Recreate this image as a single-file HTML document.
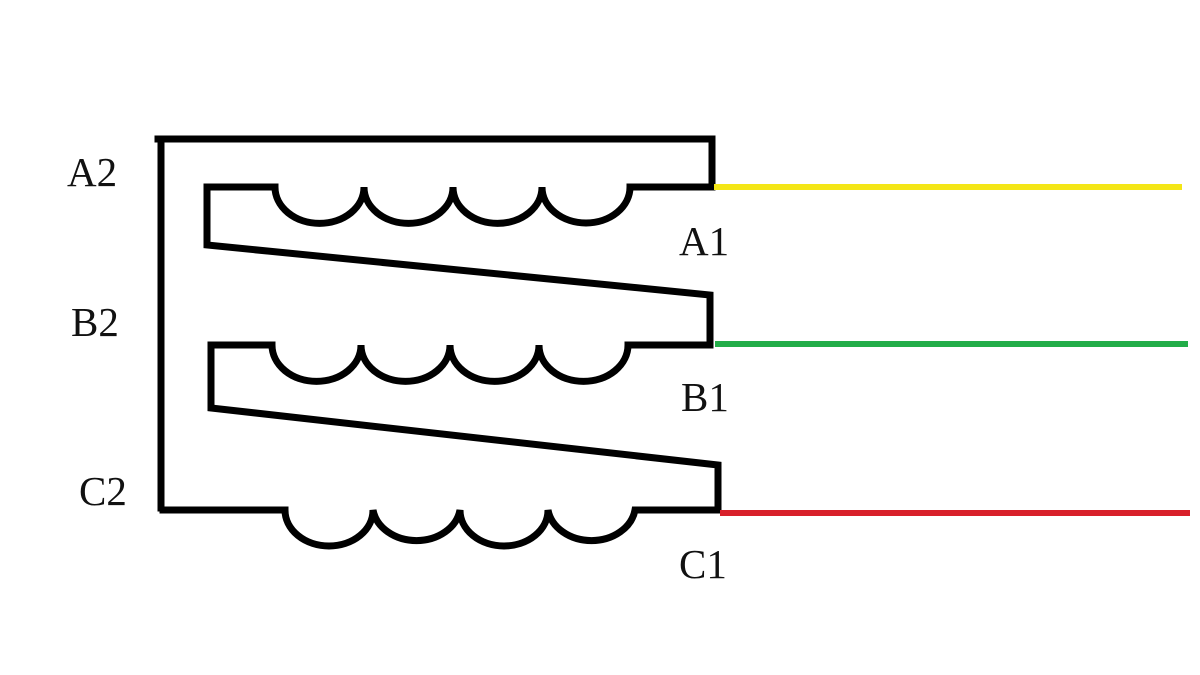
<!DOCTYPE html>
<html><head><style>
html,body{margin:0;padding:0;background:#fff;}
svg{display:block;}
text{font-family:"Liberation Serif",serif;font-size:41px;fill:#111;}
</style></head><body>
<svg width="1200" height="675" viewBox="0 0 1200 675">
<g fill="none" stroke="#000" stroke-width="7" stroke-linejoin="miter" stroke-linecap="square">
<path d="M158 139 H712 V187 H630 A44 36 0 0 1 542 187 A44 36 0 0 1 453 187 A44 36 0 0 1 364 187 A44 36 0 0 1 275 187 H207 V245 L710 295 V345 H628 A44 36 0 0 1 539 345 A44 36 0 0 1 450 345 A44 36 0 0 1 361 345 A44 36 0 0 1 272 345 H211 V408 L718 465 V510 H635 A44 36 0 0 1 548 510 A44 36 0 0 1 460 510 A44 36 0 0 1 373 510 A44 36 0 0 1 285 510 H163"/>
<path d="M161 142 V508"/>
</g>
<line x1="714" y1="187" x2="1182" y2="187" stroke="#f4e616" stroke-width="6"/>
<line x1="715" y1="344" x2="1188" y2="344" stroke="#22ad48" stroke-width="6"/>
<line x1="720" y1="513" x2="1190" y2="513" stroke="#d8202a" stroke-width="6"/>
<text x="67" y="186">A2</text>
<text x="679" y="255">A1</text>
<text x="71" y="336">B2</text>
<text x="681" y="411">B1</text>
<text x="79" y="505">C2</text>
<text x="679" y="578">C1</text>
</svg>
</body></html>
